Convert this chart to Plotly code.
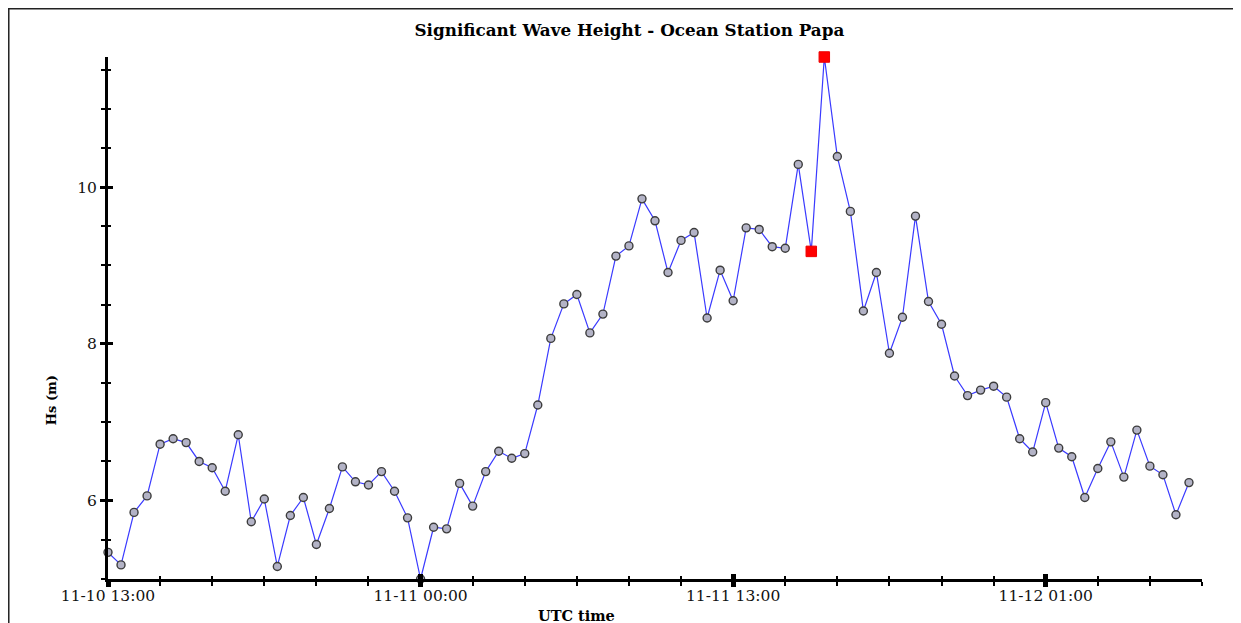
import plotly.graph_objects as go

# Significant wave height (m), one reading per step
hs = [5.34, 5.18, 5.85, 6.06, 6.72, 6.79, 6.74, 6.50, 6.42, 6.12,
      6.84, 5.73, 6.02, 5.16, 5.81, 6.04, 5.44, 5.90, 6.43, 6.24,
      6.20, 6.37, 6.12, 5.78, 5.00, 5.66, 5.64, 6.22, 5.93, 6.37,
      6.63, 6.54, 6.60, 7.22, 8.07, 8.51, 8.63, 8.14, 8.38, 9.12,
      9.25, 9.85, 9.57, 8.91, 9.32, 9.42, 8.33, 8.94, 8.55, 9.48,
      9.46, 9.24, 9.22, 10.29, 9.18, 11.66, 10.39, 9.69, 8.42, 8.91,
      7.88, 8.34, 9.63, 8.54, 8.25, 7.59, 7.34, 7.41, 7.46, 7.32,
      6.79, 6.62, 7.25, 6.67, 6.56, 6.04, 6.41, 6.75, 6.30, 6.90,
      6.44, 6.33, 5.82, 6.23]
steps = list(range(len(hs)))
highlight_idx = [54, 55]

x_tick_steps = [0, 24, 48, 72]
x_tick_labels = ["11-10 13:00", "11-11 00:00", "11-11 13:00", "11-12 01:00"]
y_tick_vals = [6, 8, 10]

FONT = "DejaVu Serif"
x_range = [0, len(hs)]
y_range = [min(hs), max(hs)]

fig = go.Figure()
fig.add_trace(go.Scatter(
    x=steps, y=hs, mode="lines+markers",
    line=dict(color="#3a3aff", width=1.2),
    marker=dict(symbol="circle", size=8, color="#b3b3c6",
                line=dict(color="#3c3c3c", width=1.4)),
    cliponaxis=False, showlegend=False, hoverinfo="x+y"))
fig.add_trace(go.Scatter(
    x=[steps[i] for i in highlight_idx], y=[hs[i] for i in highlight_idx],
    mode="markers", marker=dict(symbol="square", size=10.5, color="#ff0000",
                                line=dict(color="#ee0000", width=1)),
    cliponaxis=False, showlegend=False))

axis_common = dict(showgrid=False, zeroline=False, showline=True,
                   linecolor="black", linewidth=3, tickcolor="black")

fig.update_layout(
    width=1233, height=615,
    margin=dict(l=100, r=39, t=49, b=44),
    paper_bgcolor="white", plot_bgcolor="white",
    font=dict(family=FONT, size=15.5, color="#111"),
    title=dict(text="<b>Significant Wave Height - Ocean Station Papa</b>",
               x=0.504, xanchor="center", y=0.964, yanchor="middle",
               font=dict(family=FONT, size=16.8, color="black")),
    xaxis=dict(range=x_range, tickmode="array", tickvals=x_tick_steps,
               ticktext=x_tick_labels, ticks="outside", ticklen=5, tickwidth=5,
               ticklabelstandoff=-5,
               minor=dict(dtick=4, tick0=0, ticks="outside", ticklen=4,
                          tickwidth=2, tickcolor="black"),
               tickfont=dict(family=FONT, size=15.5, color="#111"),
               **axis_common),
    xaxis2=dict(range=x_range, overlaying="x", anchor="y", side="bottom",
                tickmode="array", tickvals=x_tick_steps, showticklabels=False,
                ticks="inside", ticklen=5, tickwidth=5,
                minor=dict(dtick=4, tick0=0, ticks="inside", ticklen=3,
                           tickwidth=2, tickcolor="black"),
                **axis_common),
    yaxis=dict(range=y_range, tickmode="array", tickvals=y_tick_vals,
               ticks="outside", ticklen=5, tickwidth=3,
               minor=dict(dtick=0.5, tick0=5, ticks="outside", ticklen=4,
                          tickwidth=2, tickcolor="black"),
               tickfont=dict(family=FONT, size=15.5, color="#111"),
               **axis_common),
    yaxis2=dict(range=y_range, overlaying="y", anchor="x", side="left",
                tickmode="array", tickvals=y_tick_vals, showticklabels=False,
                ticks="inside", ticklen=5, tickwidth=3,
                minor=dict(dtick=0.5, tick0=5, ticks="inside", ticklen=3,
                           tickwidth=2, tickcolor="black"),
                **axis_common),
)

# invisible trace to activate the overlay axes
fig.add_trace(go.Scatter(x=[None], y=[None], xaxis="x2", yaxis="y2",
                         showlegend=False, hoverinfo="skip"))

fig.add_annotation(text="<b>UTC time</b>", xref="paper", yref="paper",
                   x=0.4287, y=-0.069, xanchor="center", yanchor="middle",
                   showarrow=False, font=dict(family=FONT, size=14.5, color="black"))
fig.add_annotation(text="<b>Hs (m)</b>", xref="paper", yref="paper",
                   x=-0.051, y=0.343, xanchor="center", yanchor="middle",
                   textangle=-90, showarrow=False,
                   font=dict(family=FONT, size=13, color="black"))

# outer frame
fig.add_shape(type="rect", xref="paper", yref="paper",
              x0=-0.0907, x1=1.05, y0=-0.12, y1=1.0925,
              line=dict(color="#222", width=1.5), layer="below")

fig.write_html("out.html")
